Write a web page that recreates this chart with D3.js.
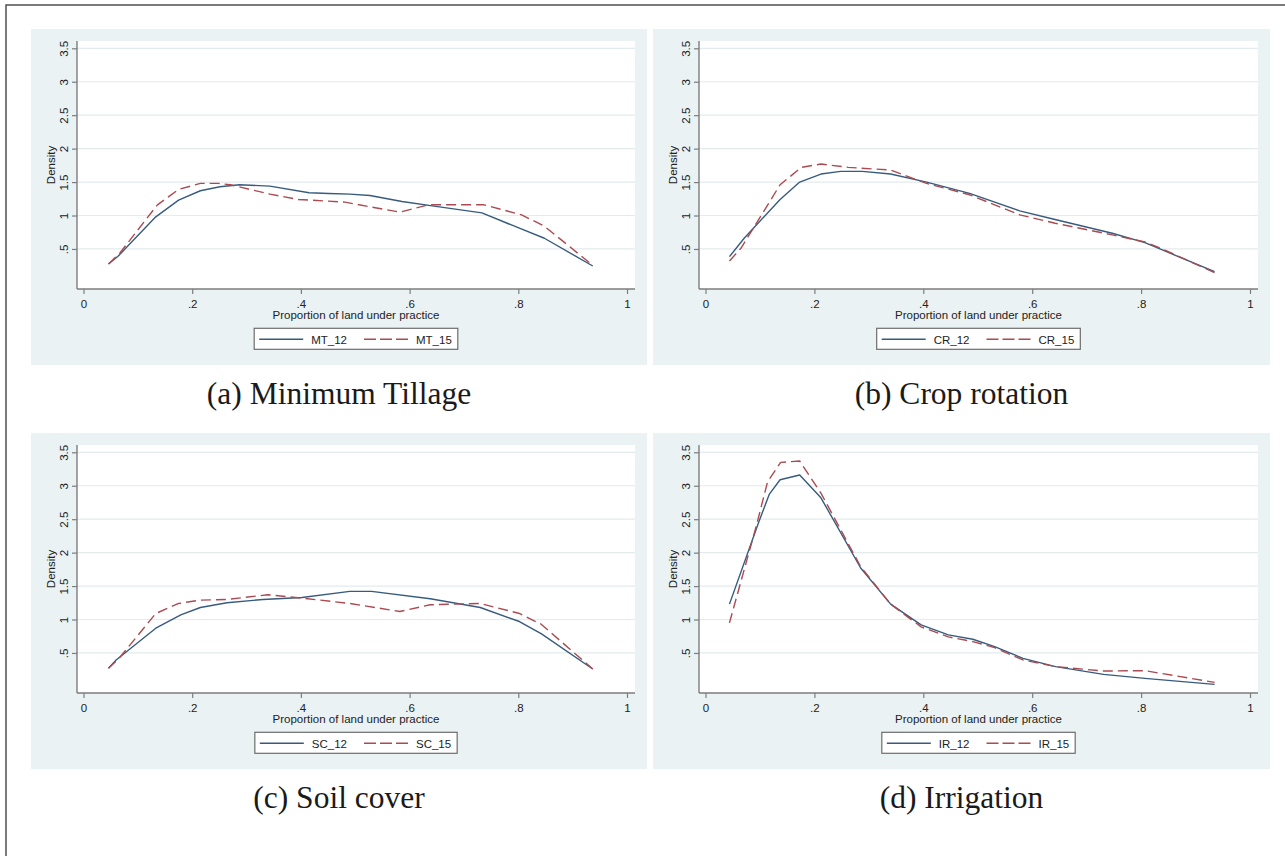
<!DOCTYPE html>
<html><head><meta charset="utf-8">
<script src="https://cdn.jsdelivr.net/npm/d3@7"></script>
<style>body{margin:0;background:#fff} svg{display:block}</style>
</head><body><svg id="c" width="1285" height="856"></svg>
<script>
// ---- Data ----
const captions = ["(a) Minimum Tillage", "(b) Crop rotation", "(c) Soil cover", "(d) Irrigation"];
const seriesNames = [["MT_12", "MT_15"], ["CR_12", "CR_15"], ["SC_12", "SC_15"], ["IR_12", "IR_15"]];
const xAxisTitle = "Proportion of land under practice";
const yAxisTitle = "Density";
const xTicks = [0, 0.2, 0.4, 0.6, 0.8, 1];
const xTickLabels = ["0", ".2", ".4", ".6", ".8", "1"];
const yTicks = [0.5, 1, 1.5, 2, 2.5, 3, 3.5];
const yTickLabels = [".5", "1", "1.5", "2", "2.5", "3", "3.5"];

const mt12X = [0.046, 0.064, 0.133, 0.175, 0.215, 0.251, 0.287, 0.343, 0.415, 0.451, 0.490, 0.527, 0.586, 0.645, 0.733, 0.802, 0.848, 0.937];
const mt12Y = [0.275, 0.395, 0.98, 1.23, 1.37, 1.43, 1.46, 1.44, 1.34, 1.33, 1.32, 1.30, 1.21, 1.14, 1.04, 0.81, 0.66, 0.245];
const mt15X = [0.046, 0.067, 0.136, 0.175, 0.215, 0.248, 0.270, 0.343, 0.395, 0.481, 0.527, 0.582, 0.635, 0.737, 0.806, 0.848, 0.934];
const mt15Y = [0.275, 0.44, 1.16, 1.39, 1.48, 1.48, 1.46, 1.32, 1.24, 1.20, 1.13, 1.05, 1.16, 1.16, 1.01, 0.84, 0.275];

const cr12X = [0.044, 0.071, 0.137, 0.173, 0.212, 0.248, 0.288, 0.340, 0.406, 0.485, 0.577, 0.642, 0.747, 0.807, 0.839, 0.935];
const cr12Y = [0.385, 0.66, 1.24, 1.50, 1.62, 1.66, 1.66, 1.62, 1.50, 1.33, 1.07, 0.94, 0.735, 0.595, 0.485, 0.16];
const cr15X = [0.044, 0.065, 0.137, 0.176, 0.212, 0.262, 0.340, 0.406, 0.485, 0.577, 0.642, 0.747, 0.807, 0.839, 0.935];
const cr15Y = [0.32, 0.51, 1.46, 1.72, 1.77, 1.72, 1.68, 1.48, 1.31, 1.01, 0.885, 0.71, 0.605, 0.50, 0.145];

const sc12X = [0.046, 0.060, 0.133, 0.179, 0.215, 0.264, 0.330, 0.402, 0.490, 0.530, 0.638, 0.730, 0.802, 0.842, 0.937];
const sc12Y = [0.27, 0.395, 0.87, 1.07, 1.18, 1.25, 1.30, 1.33, 1.42, 1.42, 1.31, 1.18, 0.97, 0.79, 0.26];
const sc15X = [0.046, 0.067, 0.133, 0.175, 0.215, 0.264, 0.339, 0.402, 0.490, 0.582, 0.638, 0.730, 0.802, 0.842, 0.937];
const sc15Y = [0.27, 0.435, 1.09, 1.24, 1.29, 1.30, 1.37, 1.32, 1.24, 1.12, 1.22, 1.24, 1.09, 0.93, 0.26];

const ir12X = [0.044, 0.097, 0.117, 0.137, 0.173, 0.212, 0.285, 0.340, 0.396, 0.446, 0.491, 0.531, 0.583, 0.643, 0.731, 0.807, 0.935];
const ir12Y = [1.23, 2.44, 2.87, 3.09, 3.16, 2.82, 1.77, 1.23, 0.92, 0.77, 0.705, 0.595, 0.42, 0.295, 0.18, 0.12, 0.03];
const ir15X = [0.044, 0.094, 0.114, 0.138, 0.173, 0.212, 0.285, 0.340, 0.396, 0.446, 0.491, 0.531, 0.583, 0.643, 0.731, 0.807, 0.935];
const ir15Y = [0.95, 2.42, 3.06, 3.35, 3.37, 2.89, 1.79, 1.23, 0.89, 0.74, 0.67, 0.58, 0.395, 0.295, 0.23, 0.235, 0.06];

const panelSeries = [
  [[mt12X, mt12Y], [mt15X, mt15Y]],
  [[cr12X, cr12Y], [cr15X, cr15Y]],
  [[sc12X, sc12Y], [sc15X, sc15Y]],
  [[ir12X, ir12Y], [ir15X, ir15Y]]
];

// ---- Styles / layout ----
const BG = "#eaf2f3", GRID = "#e3ebec", AXIS = "#7d7d7d";
const BLUE = "#375b7e", RED = "#ab4a50";
const SANS = "'Liberation Sans', Arial, sans-serif";
const SERIF = "'Liberation Serif', 'Times New Roman', serif";
const panels = [
  {gx: 31, gy: 29, gw: 616}, {gx: 653, gy: 29, gw: 617},
  {gx: 31, gy: 433, gw: 616}, {gx: 653, gy: 433, gw: 617}
];
const GH = 336;

const svg = d3.select("#c");
svg.append("rect").attr("x", 6).attr("y", 5).attr("width", 1300).attr("height", 870)
  .attr("fill", "none").attr("stroke", "#444").attr("stroke-width", 1.4);

panels.forEach((p, i) => {
  const g = svg.append("g");
  const L = p.gx + 46, R = p.gx + p.gw - 12, T = p.gy + 12, B = p.gy + 260;
  g.append("rect").attr("x", p.gx).attr("y", p.gy).attr("width", p.gw).attr("height", GH).attr("fill", BG);
  g.append("rect").attr("x", L).attr("y", T).attr("width", R - L).attr("height", B - T).attr("fill", "#fff");

  const x = d3.scaleLinear().domain([0, 1]).range([L + 6.5, R - 8]);
  const y = d3.scaleLinear().domain([0, 3.5]).range([B - 6.6, T + 7.3]);

  // gridlines
  g.selectAll(".grid").data(yTicks).join("line")
    .attr("x1", L).attr("x2", R).attr("y1", d => y(d)).attr("y2", d => y(d))
    .attr("stroke", GRID).attr("stroke-width", 1.2);

  // y axis
  const ya = d3.axisLeft(y).tickValues(yTicks).tickSize(5).tickFormat((d, k) => yTickLabels[k]);
  const yg = g.append("g").attr("transform", `translate(${L},0)`).call(ya);
  yg.select(".domain").remove();
  yg.selectAll(".tick line").attr("stroke", AXIS).attr("stroke-width", 1.2);
  yg.selectAll(".tick text").attr("font-family", SANS).attr("font-size", 11.5).attr("fill", "#222")
    .attr("x", null).attr("dy", null).attr("text-anchor", "middle")
    .attr("transform", "translate(-9,0) rotate(-90)");
  g.append("line").attr("x1", L).attr("x2", L).attr("y1", T).attr("y2", B).attr("stroke", AXIS).attr("stroke-width", 1.4);

  // x axis
  const xa = d3.axisBottom(x).tickValues(xTicks).tickSize(5).tickFormat((d, k) => xTickLabels[k]);
  const xg = g.append("g").attr("transform", `translate(0,${B})`).call(xa);
  xg.select(".domain").remove();
  xg.selectAll(".tick line").attr("stroke", AXIS).attr("stroke-width", 1.2);
  xg.selectAll(".tick text").attr("font-family", SANS).attr("font-size", 11.5).attr("fill", "#222")
    .attr("y", 19).attr("dy", null);
  g.append("line").attr("x1", L).attr("x2", R).attr("y1", B).attr("y2", B).attr("stroke", AXIS).attr("stroke-width", 1.4);

  // axis titles
  g.append("text").attr("transform", `translate(${L - 22},${(T + B) / 2}) rotate(-90)`)
    .attr("text-anchor", "middle").attr("font-family", SANS).attr("font-size", 11.5).attr("fill", "#222").text(yAxisTitle);
  g.append("text").attr("x", (L + R) / 2).attr("y", B + 30).attr("text-anchor", "middle")
    .attr("font-family", SANS).attr("font-size", 11.5).attr("fill", "#222").text(xAxisTitle);

  // lines
  const line = d3.line().x(d => x(d[0])).y(d => y(d[1]));
  panelSeries[i].forEach((s, k) => {
    const pts = s[0].map((v, j) => [v, s[1][j]]);
    g.append("path").attr("d", line(pts)).attr("fill", "none")
      .attr("stroke", k === 0 ? BLUE : RED).attr("stroke-width", 1.4)
      .attr("stroke-dasharray", k === 0 ? null : "10,5").attr("stroke-linejoin", "round");
  });

  // legend
  const lg = g.append("g");
  const box = lg.append("rect").attr("y", B + 39.3).attr("height", 21).attr("fill", "#fff")
    .attr("stroke", "#6d6d6d").attr("stroke-width", 1.2);
  let cx = 0;
  seriesNames[i].forEach((nm, k) => {
    const sx = cx + 5 + (k === 0 ? 0 : 12);
    lg.append("line").attr("x1", sx).attr("x2", sx + 44).attr("y1", B + 50.3).attr("y2", B + 50.3)
      .attr("stroke", k === 0 ? BLUE : RED).attr("stroke-width", 1.4).attr("stroke-dasharray", k === 0 ? null : "12,4");
    const tx = lg.append("text").attr("x", sx + 52).attr("y", B + 54.5).attr("font-family", SANS)
      .attr("font-size", 11.5).attr("fill", "#222").text(nm);
    cx = sx + 52 + tx.node().getComputedTextLength();
  });
  const w = cx + 6;
  box.attr("x", 0).attr("width", w);
  lg.attr("transform", `translate(${(L + R) / 2 - w / 2},0)`);

  // caption
  svg.append("text").attr("x", p.gx + p.gw / 2).attr("y", p.gy + 375).attr("text-anchor", "middle")
    .attr("font-family", SERIF).attr("font-size", 31.5).attr("fill", "#1a1a1a").text(captions[i]);
});
</script></body></html>
